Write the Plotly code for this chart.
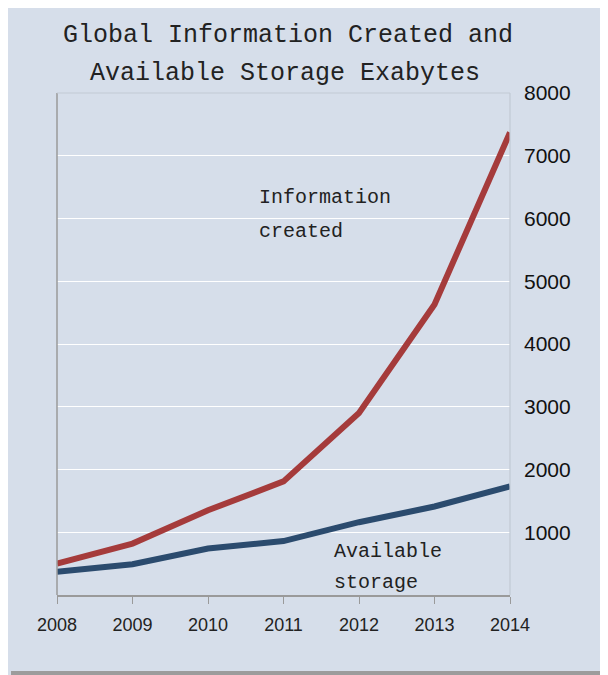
import plotly.graph_objects as go

years = [2008, 2009, 2010, 2011, 2012, 2013, 2014]
info_created = [500, 820, 1350, 1810, 2900, 4630, 7370]
avail_storage = [370, 490, 740, 860, 1160, 1410, 1730]
y_ticks = [1000, 2000, 3000, 4000, 5000, 6000, 7000, 8000]

BG = '#d6deea'
MONO = 'Liberation Mono, Courier New, monospace'
SANS = 'Liberation Sans, Arial, sans-serif'

fig = go.Figure()

fig.add_trace(go.Scatter(
    x=years, y=info_created, mode='lines',
    line=dict(color='#a53b3b', width=6),
    name='Information created'
))
fig.add_trace(go.Scatter(
    x=years, y=avail_storage, mode='lines',
    line=dict(color='#2b4b6e', width=6),
    name='Available storage'
))


def label(text, x, y, xref='x', yref='y', xanchor='left', size=20):
    return dict(text=text, x=x, y=y, xref=xref, yref=yref,
                xanchor=xanchor, yanchor='middle', showarrow=False,
                font=dict(family=MONO, size=size, color='#222'))


fig.update_layout(
    width=600, height=667,
    margin=dict(l=49, r=98, t=85, b=80),
    paper_bgcolor=BG,
    plot_bgcolor=BG,
    showlegend=False,
    xaxis=dict(
        range=[2008, 2014], tickvals=years,
        showgrid=False, zeroline=False,
        showline=True, linecolor='#9a9a9a', linewidth=1.5,
        ticks='outside', ticklen=7, tickcolor='#9a9a9a',
        ticklabelstandoff=6,
        tickfont=dict(family=SANS, size=18, color='#222')
    ),
    yaxis=dict(
        range=[0, 8000], tickvals=y_ticks, side='right',
        showgrid=True, gridcolor='#ffffff', gridwidth=1.2,
        zeroline=False, showline=False, ticks='',
        ticklabelstandoff=13,
        tickfont=dict(family=SANS, size=21, color='#111')
    ),
    annotations=[
        label('Global Information Created and', 0.511, 1.1155, 'paper', 'paper', 'center', 25),
        label('Available Storage Exabytes', 0.503, 1.0398, 'paper', 'paper', 'center', 25),
        label('Information', 2010.65, 6327),
        label('created', 2010.65, 5790),
        label('Available', 2011.64, 690),
        label('storage', 2011.64, 200),
    ],
    shapes=[
        # left axis line
        dict(type='line', xref='paper', yref='paper', x0=0, x1=0, y0=0, y1=1,
             line=dict(color='#9a9a9a', width=1.5)),
        # top and right frame lines
        dict(type='line', xref='paper', yref='paper', x0=0, x1=1, y0=1, y1=1,
             line=dict(color='#c2c9d3', width=1.2)),
        dict(type='line', xref='paper', yref='paper', x0=1, x1=1, y0=0, y1=1,
             line=dict(color='#c2c9d3', width=1.2)),
        # bottom gray bar of the frame
        dict(type='rect', xref='paper', yref='paper', x0=-0.1015, x1=1.22,
             y0=-0.1594, y1=-0.1514, line=dict(width=0), fillcolor='#9c9c9c', layer='below'),
    ]
)

fig.write_html("out.html")
